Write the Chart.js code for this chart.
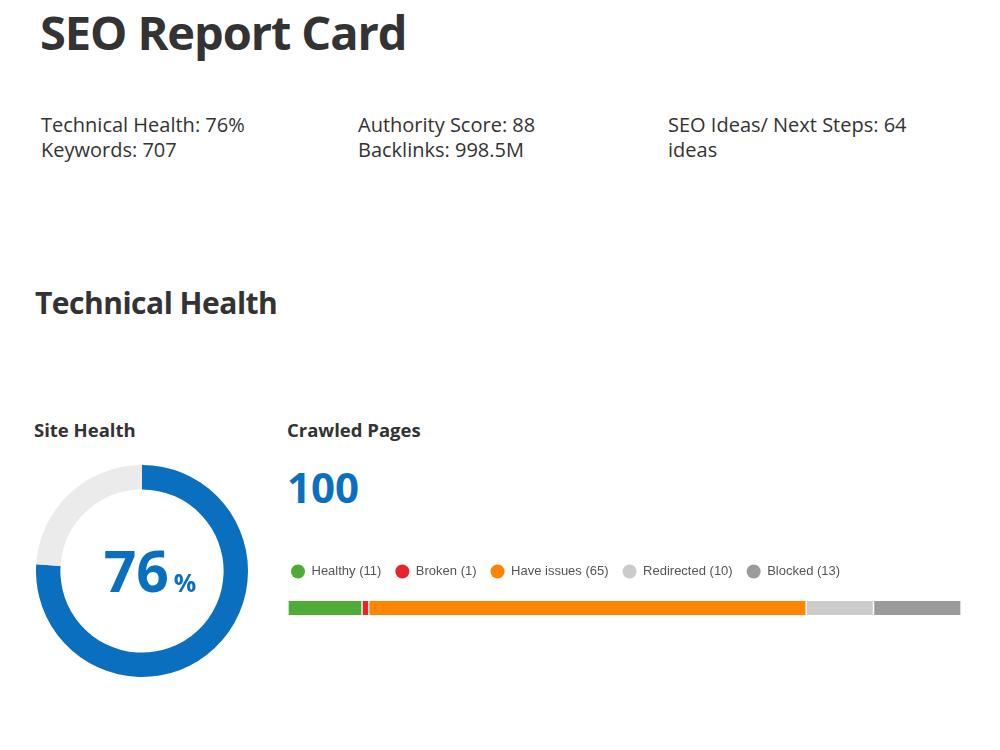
<!DOCTYPE html>
<html>
<head>
<meta charset="utf-8">
<script src="https://cdn.jsdelivr.net/npm/chart.js@4.4.1/dist/chart.umd.min.js"></script>
<style>
  body { margin: 0; background: #fff; font-family: "Open Sans", sans-serif; color: #333; }
  .page { position: relative; width: 1000px; height: 750px; overflow: hidden; }
  .abs { position: absolute; white-space: nowrap; }
  h1 { margin: 0; font-size: 47px; font-weight: 700; letter-spacing: -1.1px; color: #333; }
  h2 { margin: 0; font-size: 30px; font-weight: 700; letter-spacing: -0.5px; color: #333; }
  h3 { margin: 0; font-size: 18.5px; font-weight: 700; color: #333; }
  .stat { font-size: 20px; line-height: 25px; color: #333; }
  .big { font-size: 42px; font-weight: 700; color: #0b6fbf; }
</style>
</head>
<body>
<div class="page">
  <h1 class="abs" style="left:40px; top:0px;">SEO Report Card</h1>

  <div class="abs stat" style="left:41px; top:112px;">Technical Health: 76%<br>Keywords: 707</div>
  <div class="abs stat" style="left:358px; top:112px;">Authority Score: 88<br>Backlinks: 998.5M</div>
  <div class="abs stat" style="left:668px; top:112px;">SEO Ideas/ Next Steps: 64<br>ideas</div>

  <h2 class="abs" style="left:35px; top:282px;">Technical Health</h2>

  <h3 class="abs" style="left:34px; top:417px;">Site Health</h3>
  <h3 class="abs" style="left:287px; top:417px;">Crawled Pages</h3>

  <div class="abs big" style="left:287px; top:458px;">100</div>

  <div class="abs" style="left:36px; top:465px; width:212px; height:212px;">
    <canvas id="healthChart"></canvas>
  </div>

  <div class="abs" style="left:277px; top:551px; width:684px; height:77px;">
    <canvas id="pagesChart"></canvas>
  </div>
</div>

<script>
// site health doughnut
const healthLabels = ["Healthy", "Remaining"];
const healthValues = [76, 24];
const healthColors = ["#0b6fbf", "#ebebeb"];

// crawled pages breakdown
const pageCategories = ["Healthy", "Broken", "Have issues", "Redirected", "Blocked"];
const pageCounts = [11, 1, 65, 10, 13];
const pageColors = ["#4eab35", "#e5262d", "#ff8400", "#cbcbcb", "#9b9b9b"];

const centerText = {
  id: "centerText",
  afterDraw(chart) {
    const { ctx, chartArea } = chart;
    const cx = (chartArea.left + chartArea.right) / 2;
    const cy = (chartArea.top + chartArea.bottom) / 2;
    const num = String(healthValues[0]);
    ctx.save();
    ctx.fillStyle = healthColors[0];
    ctx.textBaseline = "alphabetic";
    ctx.font = "bold 57px 'Open Sans'";
    const w1 = ctx.measureText(num).width;
    ctx.font = "bold 25px 'Open Sans'";
    const w2 = ctx.measureText("%").width;
    // the number sits a little right of centre in the original
    const start = cx + 8 - (w1 + 5 + w2) / 2;
    ctx.font = "bold 57px 'Open Sans'";
    ctx.fillText(num, start, cy + 21);
    ctx.font = "bold 25px 'Open Sans'";
    ctx.fillText("%", start + w1 + 5, cy + 21);
    ctx.restore();
  },
};

new Chart(document.getElementById("healthChart"), {
  type: "doughnut",
  data: {
    labels: healthLabels,
    datasets: [
      {
        data: healthValues,
        backgroundColor: healthColors,
        borderWidth: 0,
        hoverOffset: 0,
      },
    ],
  },
  options: {
    responsive: true,
    maintainAspectRatio: false,
    animation: false,
    cutout: "77%",
    plugins: {
      legend: { display: false },
      tooltip: { enabled: false },
    },
  },
  plugins: [centerText],
});

new Chart(document.getElementById("pagesChart"), {
  type: "bar",
  data: {
    labels: ["Crawled Pages"],
    datasets: pageCategories.map((name, i) => ({
      label: name + " (" + pageCounts[i] + ")",
      data: [pageCounts[i]],
      backgroundColor: pageColors[i],
      borderColor: "#fff",
      borderWidth: { left: 1, right: 1, top: 0, bottom: 0 },
      borderSkipped: false,
      barThickness: 14,
    })),
  },
  options: {
    indexAxis: "y",
    responsive: true,
    maintainAspectRatio: false,
    animation: false,
    layout: { padding: 0 },
    scales: {
      x: {
        stacked: true,
        display: false,
        min: 0,
        max: pageCounts.reduce((a, b) => a + b, 0),
      },
      y: {
        stacked: true,
        display: true,
        grid: { display: false },
        border: { display: false },
        ticks: { display: false },
        afterFit: (scale) => {
          scale.width = 11;
        },
      },
    },
    plugins: {
      tooltip: { enabled: false },
      legend: {
        position: "top",
        align: "start",
        labels: {
          usePointStyle: true,
          pointStyle: "circle",
          boxHeight: 10,
          pointStyleWidth: 14,
          padding: 14,
          color: "#555",
          font: { family: "'Liberation Sans', Arial, sans-serif", size: 13 },
          generateLabels: (chart) =>
            chart.data.datasets.map((ds, i) => ({
              text: ds.label,
              fillStyle: ds.backgroundColor,
              strokeStyle: ds.backgroundColor,
              lineWidth: 0,
              pointStyle: "circle",
              fontColor: "#555",
              datasetIndex: i,
              hidden: false,
            })),
        },
      },
    },
  },
});
</script>
</body>
</html>
